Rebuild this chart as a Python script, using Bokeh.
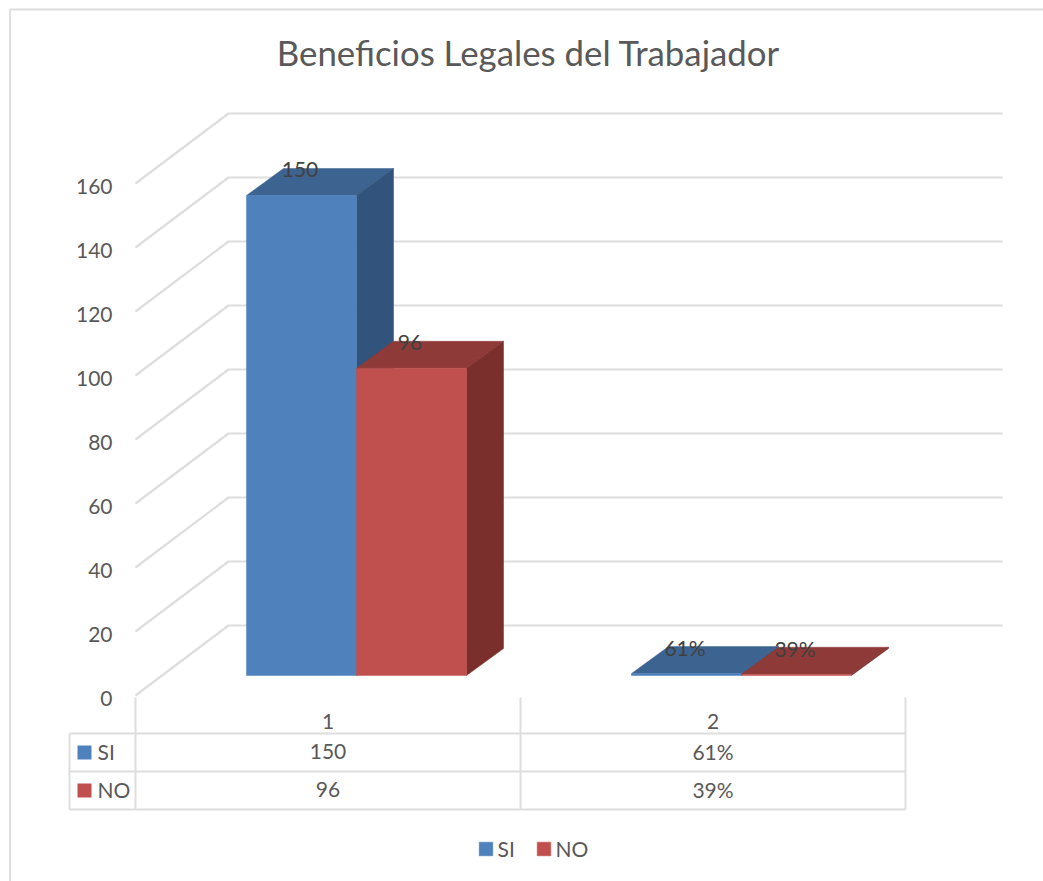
from bokeh.plotting import figure
from bokeh.models import Range1d, FixedTicker, Legend, LegendItem
from bokeh.core.properties import value
from bokeh.embed import file_html
from bokeh.resources import INLINE

# ---- data -------------------------------------------------------------
title_text = "Beneficios Legales del Trabajador"
categories = [1, 2]
si_values = [150, 0.61]
no_values = [96, 0.39]
si_labels = ["150", "61%"]
no_labels = ["96", "39%"]
series_names = ["SI", "NO"]
y_ticks = [0, 20, 40, 60, 80, 100, 120, 140, 160]

# ---- layout (page pixels) ---------------------------------------------
W, H = 1043, 881
PX_PER_CAT = 385.0
PX_PER_UNIT = 3.2
X0_PX, Y0_PX = 135.0, 695.0      # page position of category edge 0.5 / value 0
FONT = value("Lato")
GREY = "#595959"
DARK = "#404040"
RULE = "#dedede"
TXT = "21px"


def ux(px):
    return 0.5 + (px - X0_PX) / PX_PER_CAT


def uy(py):
    return (Y0_PX - py) / PX_PER_UNIT


p = figure(width=W, height=H, output_backend="svg", toolbar_location=None,
           x_range=Range1d(ux(0), ux(W)), y_range=Range1d(uy(H), uy(0)),
           min_border=0, outline_line_color=None)
p.grid.visible = False

# the value axis labels sit a little below their gridline starts
label_drop = 2.5 / PX_PER_UNIT
p.extra_y_ranges = {"labels": Range1d(uy(H) + label_drop, uy(0) + label_drop)}
p.yaxis.y_range_name = "labels"

# real axes, pinned inside the frame
p.yaxis.fixed_location = ux(135)
p.yaxis.ticker = FixedTicker(ticks=y_ticks)
p.yaxis.axis_line_color = None
p.yaxis.major_tick_line_color = None
p.yaxis.minor_tick_line_color = None
p.yaxis.major_label_standoff = 17
p.yaxis.major_label_text_font = "Lato"
p.yaxis.major_label_text_font_size = TXT
p.yaxis.major_label_text_color = GREY

p.xaxis.fixed_location = uy(705)
p.xaxis.ticker = FixedTicker(ticks=categories)
p.xaxis.axis_line_color = None
p.xaxis.major_tick_line_color = None
p.xaxis.minor_tick_line_color = None
p.xaxis.major_label_standoff = 2
p.xaxis.major_label_text_font = "Lato"
p.xaxis.major_label_text_font_size = TXT
p.xaxis.major_label_text_color = GREY

# chart frame (left and top edges; the rest is cut off in the reference)
p.line([ux(9.5), ux(9.5), ux(W)], [uy(H), uy(9), uy(9)],
       line_color=RULE, line_width=2)

# walls: floor/wall gridlines
depth_wall_x = 93 / PX_PER_CAT
depth_wall_y = 70 / PX_PER_UNIT
wall_right = ux(1002)
wall_front = ux(135)
p.multi_line(
    [[wall_front, wall_front + depth_wall_x, wall_right] for _ in y_ticks],
    [[t, t + depth_wall_y, t + depth_wall_y] for t in y_ticks],
    line_color=RULE, line_width=2.2)

# bars
bar_w = 110 / PX_PER_CAT
bar_shift = 28.5 / PX_PER_CAT
depth_x = 37 / PX_PER_CAT
depth_y = 27 / PX_PER_UNIT
base = uy(675)
label_dx = -1.5 / PX_PER_CAT
label_dy = -1 / PX_PER_UNIT

renderers = []
palette = [("#4F81BD", "#3D6491", "#32537C"), ("#C0504D", "#8E3A38", "#7B2F2D")]
for k, (vals, texts, cols) in enumerate(zip([si_values, no_values],
                                            [si_labels, no_labels], palette)):
    lefts = [c + bar_shift - bar_w + k * bar_w for c in categories]
    rights = [l + bar_w for l in lefts]
    tops = [base + v for v in vals]
    front, top, side = cols
    p.patches([[l, l + depth_x, r + depth_x, r] for l, r in zip(lefts, rights)],
              [[t, t + depth_y, t + depth_y, t] for t in tops],
              fill_color=top, line_color=top, line_width=0.5)
    p.patches([[r, r + depth_x, r + depth_x, r] for r in rights],
              [[base, base + depth_y, t + depth_y, t] for t in tops],
              fill_color=side, line_color=side, line_width=0.5)
    rend = p.quad(left=lefts, right=rights, top=tops, bottom=[base] * len(vals),
                  fill_color=front, line_color=front, line_width=0.5)
    renderers.append(rend)
    p.text([(l + r) / 2 + label_dx for l, r in zip(lefts, rights)],
           [t + depth_y + label_dy for t in tops], text=texts, text_align="center",
           text_baseline="middle", text_font=FONT, text_font_size=TXT,
           text_color=DARK)

# data table
tbl_l = ux(69)
cat_edges = [c - 0.5 for c in categories] + [categories[-1] + 0.5]
row_y = [uy(733), uy(771), uy(809)]
xs, ys = [], []
for y in row_y:
    xs.append([tbl_l, cat_edges[-1]])
    ys.append([y, y])
for e in cat_edges:
    xs.append([e, e])
    ys.append([uy(697), row_y[-1]])
xs.append([tbl_l, tbl_l])
ys.append([row_y[0], row_y[-1]])
p.multi_line(xs, ys, line_color=RULE, line_width=2)

text_lift = 1 / PX_PER_UNIT
rows = [si_labels, no_labels]
for r, (name, texts, cols) in enumerate(zip(series_names, rows, palette)):
    y_mid = (row_y[r] + row_y[r + 1]) / 2
    p.rect([ux(84)], [y_mid], width=14 / PX_PER_CAT, height=14 / PX_PER_UNIT,
           fill_color=cols[0], line_color=None)
    p.text([ux(97)], [y_mid + text_lift], text=[name], text_align="left", text_baseline="middle",
           text_font=FONT, text_font_size=TXT, text_color=GREY)
    p.text(categories, [y_mid + text_lift] * len(categories), text=texts, text_align="center",
           text_baseline="middle", text_font=FONT, text_font_size=TXT, text_color=GREY)

# title
p.text([ux(528)], [uy(52)], text=[title_text], text_align="center", text_baseline="middle",
       text_font=FONT, text_font_size="34.8px", text_color=GREY)

# legend
legend = Legend(items=[LegendItem(label=n, renderers=[r]) for n, r in zip(series_names, renderers)],
                orientation="horizontal", location=(476.5, 20),
                background_fill_alpha=0, border_line_color=None,
                glyph_width=17, glyph_height=17, label_standoff=4, spacing=17, padding=0,
                margin=0, label_text_font="Lato", label_text_font_size=TXT,
                label_text_color=GREY)
p.add_layout(legend, "center")

open("out.html", "w").write(file_html(p, INLINE))
